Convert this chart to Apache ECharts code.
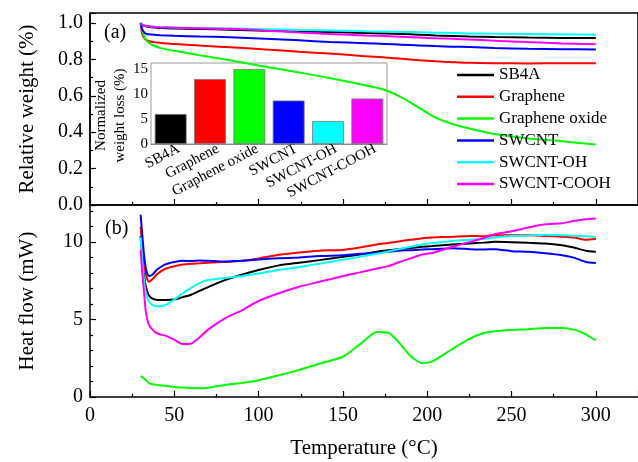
<!DOCTYPE html>
<html>
<head>
<meta charset="utf-8">
<script src="https://cdn.jsdelivr.net/npm/echarts@6/dist/echarts.min.js"></script>
<style>
    html, body { margin: 0; padding: 0; background: #fff; }
    #chart { width: 638px; height: 462px; }
</style>
</head>
<body>
<div id="chart"></div>
<script>
const seriesNames = ['SB4A', 'Graphene', 'Graphene oxide', 'SWCNT', 'SWCNT-OH', 'SWCNT-COOH'];
const colors = ['#000000', '#ff0000', '#00ff00', '#0000ff', '#00ffff', '#ff00ff'];

// (a) TGA, relative weight
const tgaT = [30, 31, 32, 33, 35, 38, 42, 50, 65, 83, 104, 124, 142, 163, 175, 185, 195, 205, 215, 225, 240, 260, 280, 300];
const tgaSB4A = [1.0, 0.99, 0.985, 0.982, 0.978, 0.975, 0.973, 0.97, 0.967, 0.963, 0.958, 0.954, 0.95, 0.945, 0.942, 0.939, 0.936, 0.932, 0.929, 0.926, 0.923, 0.92, 0.918, 0.917];
const tgaGraphene = [1.0, 0.94, 0.92, 0.909, 0.9, 0.895, 0.89, 0.885, 0.876, 0.867, 0.855, 0.842, 0.832, 0.818, 0.81, 0.803, 0.796, 0.79, 0.785, 0.781, 0.779, 0.778, 0.779, 0.779];
const tgaGO = [1.0, 0.96, 0.93, 0.91, 0.89, 0.875, 0.862, 0.847, 0.823, 0.795, 0.76, 0.728, 0.698, 0.658, 0.632, 0.59, 0.535, 0.48, 0.445, 0.42, 0.39, 0.366, 0.35, 0.333];
const tgaSWCNT = [1.0, 0.965, 0.95, 0.942, 0.938, 0.935, 0.933, 0.93, 0.926, 0.922, 0.914, 0.905, 0.896, 0.889, 0.885, 0.881, 0.877, 0.873, 0.87, 0.868, 0.863, 0.858, 0.856, 0.855];
const tgaOH = [1.0, 0.992, 0.988, 0.985, 0.982, 0.98, 0.978, 0.976, 0.973, 0.97, 0.966, 0.962, 0.959, 0.955, 0.953, 0.951, 0.949, 0.947, 0.945, 0.943, 0.941, 0.939, 0.937, 0.936];
const tgaCOOH = [1.0, 0.99, 0.987, 0.985, 0.982, 0.978, 0.976, 0.974, 0.971, 0.968, 0.958, 0.948, 0.94, 0.932, 0.928, 0.924, 0.92, 0.916, 0.913, 0.909, 0.903, 0.895, 0.888, 0.883];

// (b) DSC, heat flow
const dscT = [30, 31, 32, 33, 34, 35, 37, 40, 45, 50, 55, 60, 65, 70, 80, 90, 100, 112, 124, 136, 150, 160, 170, 177, 183, 190, 197, 203, 215, 225, 233, 240, 250, 260, 270, 280, 287, 294, 300];
const dscSB4A = [10.4, 9.0, 7.9, 7.2, 6.8, 6.55, 6.35, 6.27, 6.27, 6.3, 6.45, 6.6, 6.85, 7.1, 7.55, 7.9, 8.2, 8.5, 8.67, 8.84, 9.05, 9.2, 9.38, 9.48, 9.55, 9.62, 9.7, 9.75, 9.85, 9.92, 9.97, 10.02, 10.0, 9.96, 9.92, 9.8, 9.65, 9.45, 9.38];
const dscGraphene = [11.0, 9.8, 8.8, 8.0, 7.6, 7.45, 7.6, 7.95, 8.3, 8.45, 8.55, 8.6, 8.63, 8.67, 8.72, 8.8, 8.95, 9.18, 9.34, 9.45, 9.5, 9.65, 9.85, 9.95, 10.05, 10.15, 10.25, 10.3, 10.35, 10.4, 10.38, 10.45, 10.45, 10.45, 10.4, 10.35, 10.3, 10.15, 10.2];
const dscGO = [1.34, 1.28, 1.2, 1.1, 1.0, 0.9, 0.82, 0.78, 0.72, 0.65, 0.61, 0.58, 0.56, 0.6, 0.78, 0.9, 1.08, 1.4, 1.75, 2.15, 2.6, 3.4, 4.2, 4.15, 3.55, 2.65, 2.18, 2.3, 3.1, 3.75, 4.12, 4.25, 4.33, 4.38, 4.45, 4.45, 4.35, 4.05, 3.65];
const dscSWCNT = [11.77, 10.5, 9.2, 8.4, 7.95, 7.82, 7.9, 8.25, 8.58, 8.72, 8.8, 8.78, 8.82, 8.8, 8.75, 8.8, 8.88, 8.96, 9.01, 9.1, 9.16, 9.25, 9.3, 9.38, 9.45, 9.48, 9.52, 9.55, 9.6, 9.55, 9.52, 9.55, 9.42, 9.38, 9.28, 9.15, 9.0, 8.72, 8.65];
const dscOH = [10.32, 8.8, 7.6, 6.8, 6.4, 6.15, 5.95, 5.85, 5.95, 6.3, 6.7, 7.05, 7.35, 7.55, 7.68, 7.82, 7.98, 8.2, 8.4, 8.6, 8.88, 9.05, 9.25, 9.4, 9.55, 9.7, 9.85, 9.95, 10.08, 10.15, 10.2, 10.3, 10.39, 10.42, 10.48, 10.45, 10.42, 10.38, 10.34];
const dscCOOH = [9.5, 8.0, 6.8, 5.6, 5.0, 4.65, 4.35, 4.1, 3.95, 3.7, 3.42, 3.45, 3.85, 4.35, 5.08, 5.6, 6.2, 6.7, 7.12, 7.44, 7.81, 8.05, 8.3, 8.45, 8.7, 8.95, 9.2, 9.3, 9.7, 10.0, 10.25, 10.52, 10.7, 10.95, 11.15, 11.22, 11.37, 11.48, 11.53];

// inset, normalized weight loss (%)
const insetLoss = [6.0, 13.0, 15.0, 8.7, 4.6, 9.1];

const tgaData = [tgaSB4A, tgaGraphene, tgaGO, tgaSWCNT, tgaOH, tgaCOOH];
const dscData = [dscSB4A, dscGraphene, dscGO, dscSWCNT, dscOH, dscCOOH];

const font = '"Liberation Serif", "Times New Roman", serif';
const zip = (xs, ys) => xs.map((x, i) => [x, ys[i]]);

const axisLine = { lineStyle: { color: '#000', width: 1.5 } };
const tick = { inside: true, length: 6, lineStyle: { color: '#000', width: 1.2 } };
const minor = (n) => ({ show: true, splitNumber: n, length: 3, lineStyle: { color: '#000', width: 1.2 } });
const label = { color: '#000', fontFamily: font, fontSize: 20 };
const nameStyle = { color: '#000', fontFamily: font, fontSize: 21 };

const chart = echarts.init(document.getElementById('chart'));

const series = [];
seriesNames.forEach((name, i) => {
    series.push({
        name: name, type: 'line', xAxisIndex: 0, yAxisIndex: 0,
        data: zip(tgaT, tgaData[i]), showSymbol: false, symbol: 'none', smooth: 0.3,
        lineStyle: { color: colors[i], width: 2 }, itemStyle: { color: colors[i] }
    });
});
seriesNames.forEach((name, i) => {
    series.push({
        name: name, type: 'line', xAxisIndex: 1, yAxisIndex: 1,
        data: zip(dscT, dscData[i]), showSymbol: false, symbol: 'none', smooth: 0.2,
        lineStyle: { color: colors[i], width: 2 }, itemStyle: { color: colors[i] }
    });
});
series.push({
    type: 'bar', xAxisIndex: 2, yAxisIndex: 2, barCategoryGap: '19%',
    data: insetLoss.map((v, i) => ({ value: v, itemStyle: { color: colors[i] } })),
    itemStyle: { borderColor: '#777', borderWidth: 0.8 }
});

chart.setOption({
    animation: false,
    backgroundColor: '#fff',
    textStyle: { fontFamily: font },
    grid: [
        { left: 90, top: 13, right: -3, height: 192, show: true, borderColor: '#000', borderWidth: 1.5 },
        { left: 90, top: 205, right: -3, height: 192 },
        { left: 151, top: 63, width: 236, height: 81, show: true, borderColor: '#999', borderWidth: 1 }
    ],
    legend: {
        orient: 'vertical', left: 457, top: 66.5, padding: 0,
        data: seriesNames.map((n) => ({ name: n, icon: 'rect' })),
        itemWidth: 37, itemHeight: 2.5, itemGap: 4.8,
        textStyle: { color: '#000', fontFamily: font, fontSize: 17, lineHeight: 17 }
    },
    xAxis: [
        {
            gridIndex: 0, type: 'value', min: 0, max: 325, interval: 50,
            axisLine: axisLine, axisTick: tick, minorTick: minor(2),
            axisLabel: { show: false }, splitLine: { show: false }
        },
        {
            gridIndex: 1, type: 'value', min: 0, max: 325, interval: 50,
            name: 'Temperature (°C)', nameLocation: 'middle', nameGap: 41, nameTextStyle: nameStyle,
            axisLine: axisLine, axisTick: tick, minorTick: minor(2),
            axisLabel: Object.assign({ margin: 9, showMaxLabel: false }, label), splitLine: { show: false }
        },
        {
            gridIndex: 2, type: 'category', data: seriesNames,
            axisLine: { lineStyle: { color: '#888', width: 1 } }, axisTick: { show: false },
            axisLabel: { rotate: 28, margin: 8, interval: 0, padding: [0, -9, 0, 0], color: '#000', fontFamily: font, fontSize: 15 }
        }
    ],
    yAxis: [
        {
            gridIndex: 0, type: 'value', min: 0, max: 1.055, interval: 0.2,
            name: 'Relative weight (%)', nameLocation: 'middle', nameGap: 52, nameTextStyle: nameStyle,
            axisLine: axisLine, axisTick: tick, minorTick: minor(2),
            axisLabel: Object.assign({ margin: 7, showMaxLabel: false, formatter: (v) => v.toFixed(1) }, label),
            splitLine: { show: false }
        },
        {
            gridIndex: 1, type: 'value', min: 0, max: 12.4, interval: 5,
            name: 'Heat flow (mW)', nameLocation: 'middle', nameGap: 52, nameTextStyle: nameStyle,
            axisLine: axisLine, axisTick: tick, minorTick: minor(5),
            axisLabel: Object.assign({ margin: 7, showMaxLabel: false }, label),
            splitLine: { show: false }
        },
        {
            gridIndex: 2, type: 'value', min: 0, max: 16.2, interval: 5,
            name: 'Normalized\nweight loss (%)', nameLocation: 'middle', nameGap: 6,
            nameTextStyle: { color: '#000', fontFamily: font, fontSize: 15, lineHeight: 19, padding: [0, 24, 0, 0] },
            axisLine: { lineStyle: { color: '#888', width: 1 } },
            axisTick: { inside: true, length: 3, lineStyle: { color: '#888' } },
            axisLabel: { margin: 3, showMaxLabel: false, color: '#000', fontFamily: font, fontSize: 15 },
            splitLine: { show: false }
        }
    ],
    graphic: [
        { type: 'text', left: 104, top: 23, style: { text: '(a)', fill: '#000', font: '20px "Liberation Serif"' } },
        { type: 'text', left: 105, top: 219, style: { text: '(b)', fill: '#000', font: '20px "Liberation Serif"' } }
    ],
    series: series
});

window.addEventListener('resize', () => chart.resize(), false);
</script>
</body>
</html>
